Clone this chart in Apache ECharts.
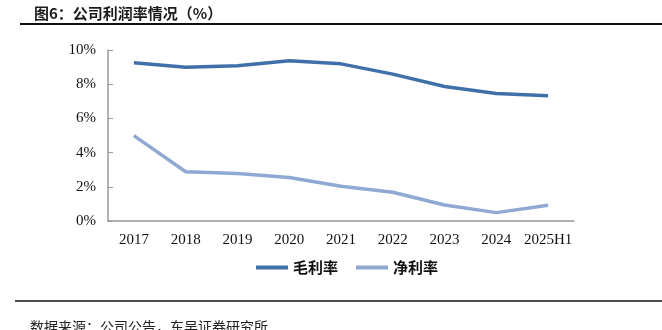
<!DOCTYPE html>
<html><head><meta charset="utf-8">
<script src="https://cdn.jsdelivr.net/npm/echarts@6/dist/echarts.min.js"></script>
<style>html,body{margin:0;padding:0;background:#fff}#c{width:662px;height:330px}</style>
</head><body><div id="c"></div>
<script>
const categories = ['2017','2018','2019','2020','2021','2022','2023','2024','2025H1'];
const grossMargin = [9.25, 8.99, 9.08, 9.37, 9.19, 8.59, 7.87, 7.46, 7.32];
const netMargin = [4.99, 2.88, 2.78, 2.54, 2.03, 1.68, 0.94, 0.49, 0.92];
const yTicks = [0, 2, 4, 6, 8, 10];

const chart = echarts.init(document.getElementById('c'), null, {renderer:'canvas'});
const serif = '"Liberation Serif","Times New Roman",serif';
const cjk = '"Noto Sans CJK SC",sans-serif';
chart.setOption({
  animation:false,
  backgroundColor:'#fff',
  title:{text:'图6：公司利润率情况（%）', left:29, top:1,
    textStyle:{fontFamily:cjk, fontSize:15, fontWeight:'bold', color:'#1a1a1a'}},
  graphic:[
    {type:'line', shape:{x1:20,y1:24,x2:662,y2:24}, style:{stroke:'#111',lineWidth:2}},
    {type:'line', shape:{x1:15,y1:301,x2:662,y2:301}, style:{stroke:'#111',lineWidth:1.5}},
    {type:'text', left:30, top:320, style:{text:'数据来源：公司公告，东吴证券研究所', font:'14px "Noto Sans CJK SC",sans-serif', fill:'#222'}}
  ],
  legend:{bottom:50, left:251, itemWidth:32, itemHeight:4, itemGap:18, icon:'rect',
    textStyle:{fontFamily:cjk, fontSize:15, fontWeight:'bold', color:'#111'},
    data:['毛利率','净利率']},
  grid:{left:108, right:88, top:50, bottom:109},
  xAxis:{type:'category', data:categories, boundaryGap:true,
    axisLine:{lineStyle:{color:'#999', width:1.5}}, axisTick:{show:false},
    axisLabel:{fontFamily:serif, fontSize:15, color:'#111', margin:12, interval:0}},
  yAxis:{type:'value', min:yTicks[0], max:yTicks[yTicks.length-1], interval:2,
    axisLine:{show:true, lineStyle:{color:'#999', width:1.5}},
    axisTick:{show:true, length:5, inside:true, lineStyle:{color:'#999'}},
    splitLine:{show:false},
    axisLabel:{fontFamily:serif, fontSize:15, color:'#111', margin:12, formatter:v=>v+'%'}},
  series:[
    {name:'毛利率', type:'line', data:grossMargin, symbol:'none', lineStyle:{width:3.5, color:'#4070aa'}, itemStyle:{color:'#4070aa'}},
    {name:'净利率', type:'line', data:netMargin, symbol:'none', lineStyle:{width:3.5, color:'#8fa9d3'}, itemStyle:{color:'#8fa9d3'}}
  ]
});
</script></body></html>
